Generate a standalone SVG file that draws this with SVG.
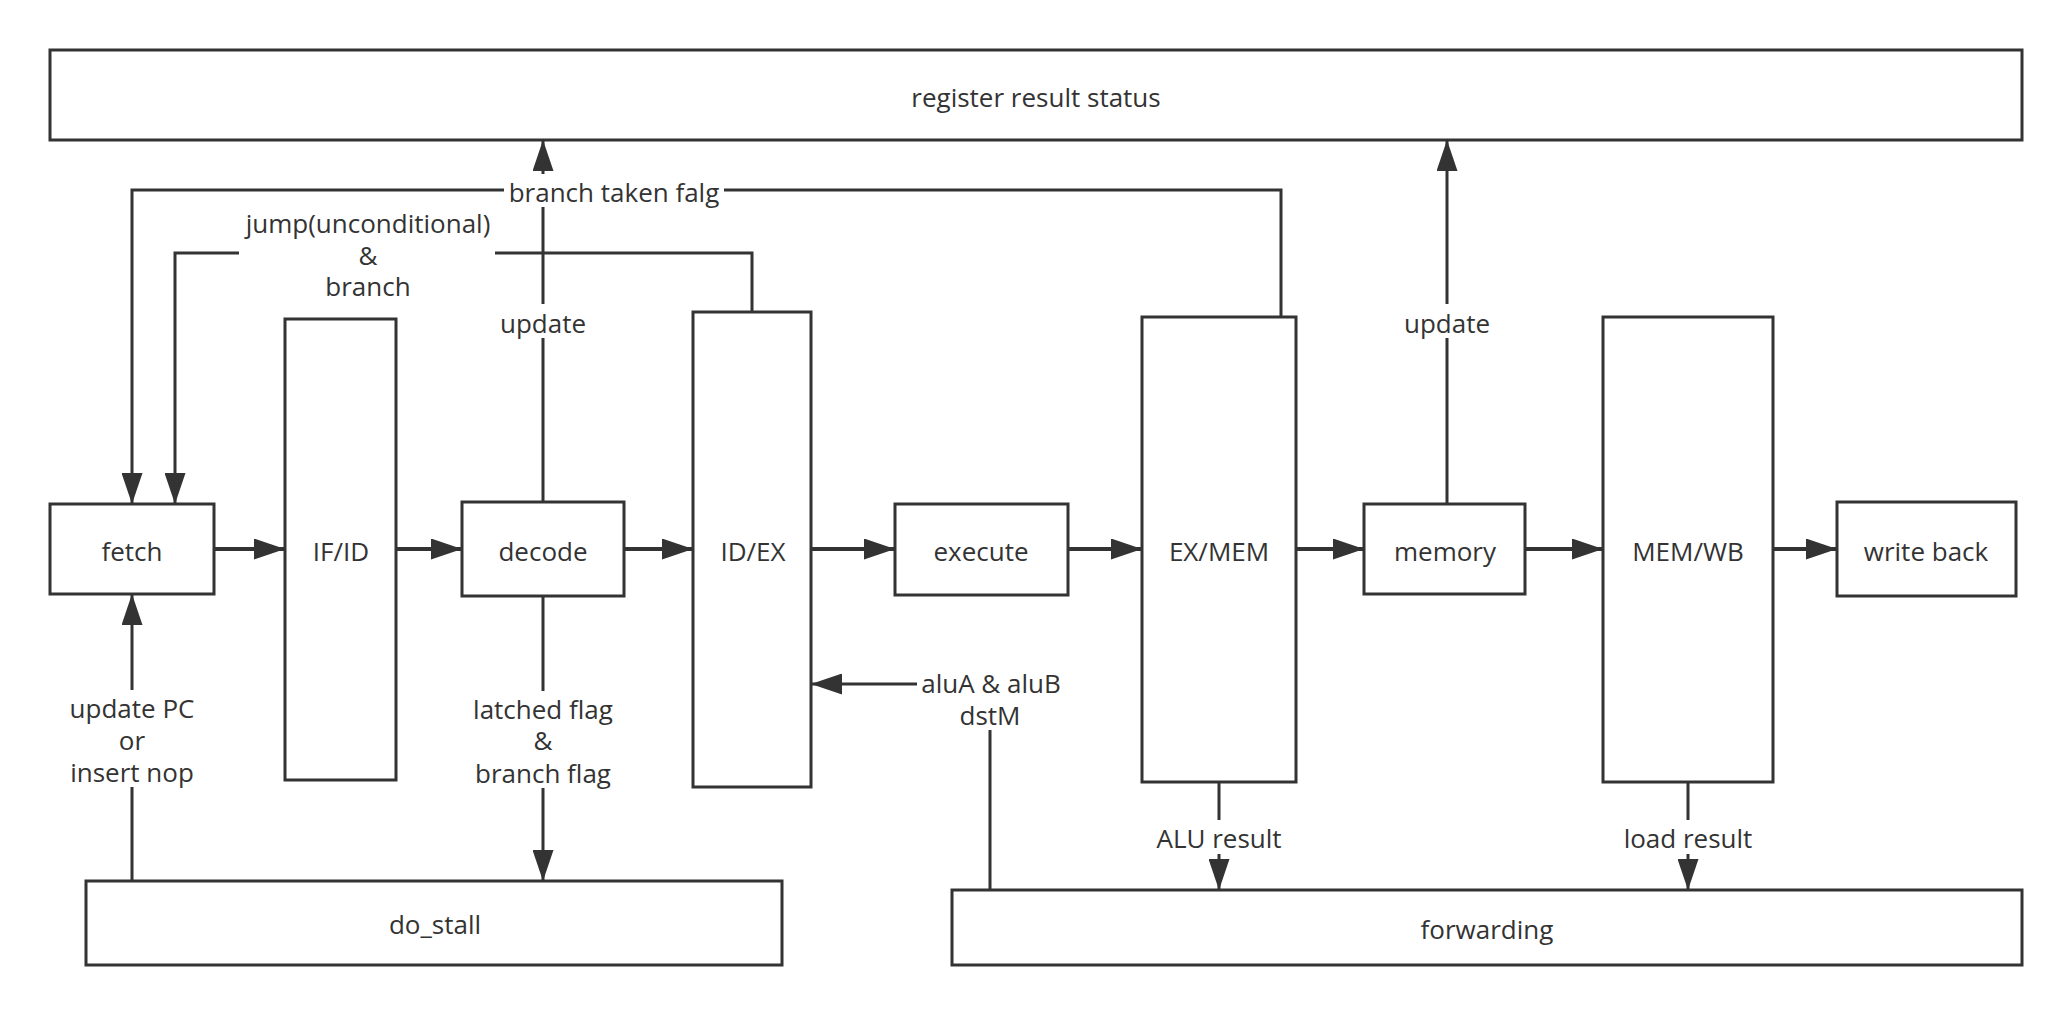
<svg xmlns="http://www.w3.org/2000/svg" width="2070" height="1014" viewBox="0 0 2070 1014">
<style>
.n{fill:#fff;stroke:#333;stroke-width:3}
.t{font-family:"Open Sans","Noto Sans",sans-serif;font-size:26px;fill:#333;text-anchor:middle}
.c{fill:none;stroke:#333;stroke-width:3}
.m{fill:none;stroke:#333;stroke-width:4}
.bg{fill:#fff;stroke:none}
</style>
<defs>
<marker id="ah" viewBox="0 0 31 21" refX="31" refY="10.5" markerWidth="31" markerHeight="21" markerUnits="userSpaceOnUse" orient="auto"><path d="M0,0 L31,10.5 L0,21 z" fill="#333"/></marker>
</defs>
<rect width="2070" height="1014" fill="#fff"/>
<g id="register"><rect class="n" x="50" y="50" width="1972" height="90"/><text class="t" x="1036" y="107">register result status</text></g>
<g id="fetch"><rect class="n" x="50" y="504" width="164" height="90"/><text class="t" x="132" y="561">fetch</text></g>
<g id="ifid"><rect class="n" x="285" y="319" width="111" height="461"/><text class="t" x="341" y="561">IF/ID</text></g>
<g id="decode"><rect class="n" x="462" y="502" width="162" height="94"/><text class="t" x="543" y="561">decode</text></g>
<g id="idex"><rect class="n" x="693" y="312" width="118" height="475"/><text class="t" x="753" y="561">ID/EX</text></g>
<g id="execute"><rect class="n" x="895" y="504" width="173" height="91"/><text class="t" x="981" y="561">execute</text></g>
<g id="exmem"><rect class="n" x="1142" y="317" width="154" height="465"/><text class="t" x="1219" y="561">EX/MEM</text></g>
<g id="memory"><rect class="n" x="1364" y="504" width="161" height="90"/><text class="t" x="1445" y="561">memory</text></g>
<g id="memwb"><rect class="n" x="1603" y="317" width="170" height="465"/><text class="t" x="1688" y="561">MEM/WB</text></g>
<g id="writeback"><rect class="n" x="1837" y="502" width="179" height="94"/><text class="t" x="1926" y="561">write back</text></g>
<g id="dostall"><rect class="n" x="86" y="881" width="696" height="84"/><text class="t" x="435" y="934">do_stall</text></g>
<g id="forwarding"><rect class="n" x="952" y="890" width="1070" height="75"/><text class="t" x="1487" y="939">forwarding</text></g>
<g id="connectors">
<path class="m" d="M214 549H285" marker-end="url(#ah)"/>
<path class="m" d="M396 549H462" marker-end="url(#ah)"/>
<path class="m" d="M624 549H693" marker-end="url(#ah)"/>
<path class="m" d="M811 549H895" marker-end="url(#ah)"/>
<path class="m" d="M1068 549H1142" marker-end="url(#ah)"/>
<path class="m" d="M1296 549H1364" marker-end="url(#ah)"/>
<path class="m" d="M1525 549H1603" marker-end="url(#ah)"/>
<path class="m" d="M1773 549H1837" marker-end="url(#ah)"/>
<path class="c" d="M543 502V140" marker-end="url(#ah)"/>
<rect class="bg" x="500" y="304" width="86" height="34"/>
<text class="t" x="543" y="333">update</text>
<path class="c" d="M1447 504V140" marker-end="url(#ah)"/>
<rect class="bg" x="1403" y="304" width="87" height="34"/>
<text class="t" x="1447" y="333">update</text>
<path class="c" d="M752 312V253H175V504" marker-end="url(#ah)"/>
<rect class="bg" x="239" y="205" width="256" height="95"/>
<text class="t" x="368" y="233">jump(unconditional)</text>
<text class="t" x="368" y="265">&amp;</text>
<text class="t" x="368" y="296">branch</text>
<path class="c" d="M1281 317V190H132V504" marker-end="url(#ah)"/>
<rect class="bg" x="504" y="174" width="220" height="33"/>
<text class="t" x="614" y="202">branch taken falg</text>
<path class="c" d="M132 881V594" marker-end="url(#ah)"/>
<rect class="bg" x="66" y="690" width="132" height="97"/>
<text class="t" x="132" y="718">update PC</text>
<text class="t" x="132" y="750">or</text>
<text class="t" x="132" y="782">insert nop</text>
<path class="c" d="M543 596V881" marker-end="url(#ah)"/>
<rect class="bg" x="468" y="691" width="150" height="97"/>
<text class="t" x="543" y="719">latched flag</text>
<text class="t" x="543" y="750">&amp;</text>
<text class="t" x="543" y="783">branch flag</text>
<path class="c" d="M990 890V684H811" marker-end="url(#ah)"/>
<rect class="bg" x="917" y="668" width="148" height="62"/>
<text class="t" x="991" y="693">aluA &amp; aluB</text>
<text class="t" x="990" y="725">dstM</text>
<path class="c" d="M1219 782V890" marker-end="url(#ah)"/>
<rect class="bg" x="1155" y="820" width="129" height="34"/>
<text class="t" x="1219" y="848">ALU result</text>
<path class="c" d="M1688 782V890" marker-end="url(#ah)"/>
<rect class="bg" x="1621" y="820" width="134" height="34"/>
<text class="t" x="1688" y="848">load result</text>
</g>
</svg>
